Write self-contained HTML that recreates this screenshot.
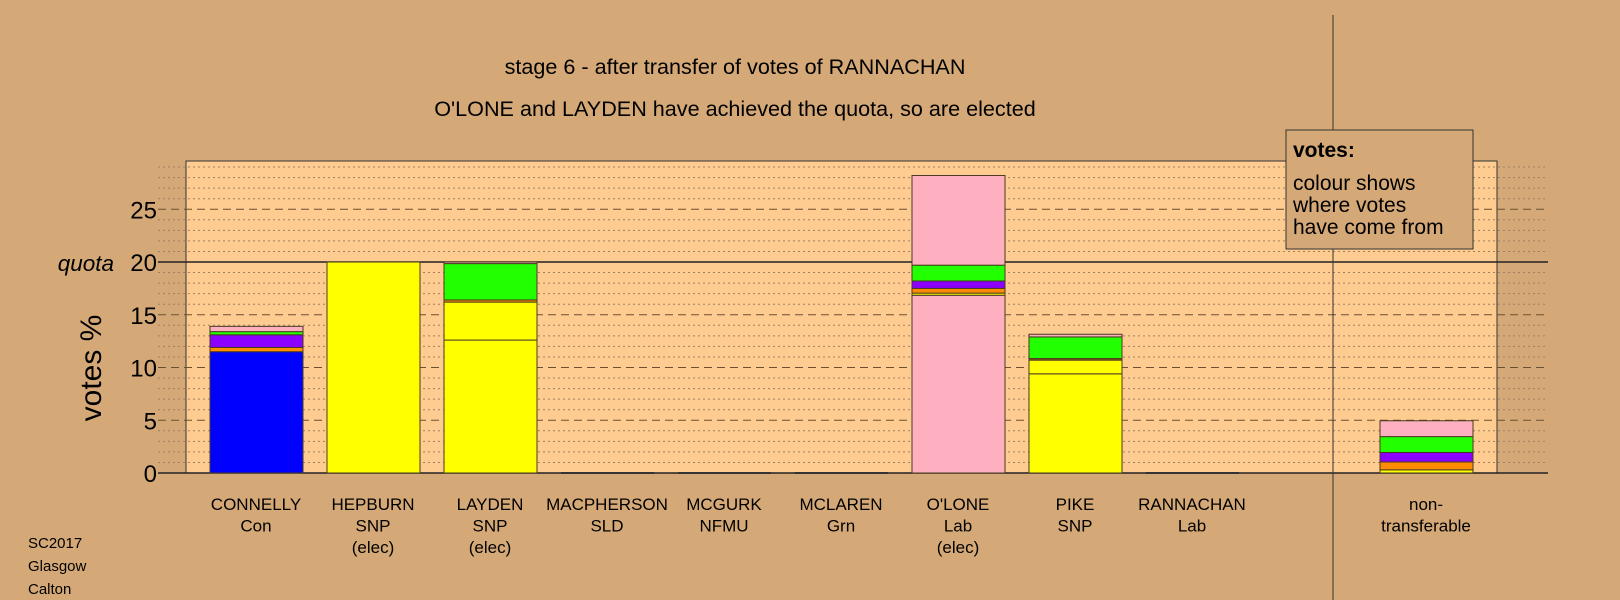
<!DOCTYPE html>
<html><head><meta charset="utf-8"><style>
body{margin:0;background:#d5a977;}
svg{display:block;font-family:"Liberation Sans",sans-serif;}
</style></head><body>
<svg id="chart" width="1620" height="600" viewBox="0 0 1620 600">
<rect x="0" y="0" width="1620" height="600" fill="#d5a977"/>
<text x="735" y="74" font-size="21.6" text-anchor="middle">stage 6 - after transfer of votes of RANNACHAN</text>
<text x="735" y="116" font-size="21.6" text-anchor="middle">O'LONE and LAYDEN have achieved the quota, so are elected</text>
<rect x="186" y="161" width="1311" height="312" fill="#fecb91" stroke="#333" stroke-width="1"/>
<g id="grid"></g>
<g id="bars"></g>
<g id="ticks"></g>
<line x1="1333" y1="15" x2="1333" y2="600" stroke="#333" stroke-width="1"/>
<text x="114" y="271" font-size="22.5" font-style="italic" text-anchor="end">quota</text>
<text transform="translate(101,368) rotate(-90)" font-size="30" text-anchor="middle">votes %</text>
<g>
<rect x="1286" y="130" width="187" height="119" fill="#d5a977" stroke="#333" stroke-width="1"/>
<text x="1293" y="157" font-size="21" font-weight="bold">votes:</text>
<text x="1293" y="190" font-size="21">colour shows</text>
<text x="1293" y="212" font-size="21">where votes</text>
<text x="1293" y="234" font-size="21">have come from</text>
</g>
<g font-size="15">
<text x="28" y="548">SC2017</text>
<text x="28" y="571">Glasgow</text>
<text x="28" y="594">Calton</text>
</g>
<g id="labels" font-size="17" text-anchor="middle"></g>
</svg>
<script>
const categories=["CONNELLY","HEPBURN","LAYDEN","MACPHERSON","MCGURK","MCLAREN","O'LONE","PIKE","RANNACHAN","non-"];
const subLabels=[["Con"],["SNP","(elec)"],["SNP","(elec)"],["SLD"],["NFMU"],["Grn"],["Lab","(elec)"],["SNP"],["Lab"],["transferable"]];
const slotIndex=[0,1,2,3,4,5,6,7,8,10];
const segConnelly=[["#0000ff",11.5],["#ff8c00",0.4],["#8b00ff",1.2],["#22ff00",0.3],["#ffb0c0",0.5]];
const segHepburn=[["#ffff00",20.0]];
const segLayden=[["#ffff00",12.6],["#ffff00",3.6],["#ff8c00",0.2],["#22ff00",3.45],["#ffb0c0",0.15]];
const segOlone=[["#ffb0c0",16.85],["#ffff00",0.2],["#ff8c00",0.45],["#8b00ff",0.7],["#22ff00",1.5],["#ffb0c0",8.5]];
const segPike=[["#ffff00",9.4],["#ffff00",1.3],["#8b5a00",0.15],["#22ff00",2.05],["#ffb0c0",0.25]];
const segNontrans=[["#ffff00",0.3],["#ff8c00",0.75],["#8b00ff",0.9],["#22ff00",1.5],["#ffb0c0",1.5]];
const stacks=[segConnelly,segHepburn,segLayden,[],[],[],segOlone,segPike,[],segNontrans];
const yTicks=[0,5,10,15,20,25];
const quota=20;
const NS="http://www.w3.org/2000/svg";
const y0=473,pxU=10.55;
function y(v){return y0-v*pxU;}
function xc(slot){return 256+slot*117;}
const grid=document.getElementById('grid');
for(let v=0;v<=29;v++){
  const l=document.createElementNS(NS,'line');
  l.setAttribute('x1',158);l.setAttribute('x2',1548);
  l.setAttribute('y1',y(v));l.setAttribute('y2',y(v));
  if(v===0||v===quota){l.setAttribute('stroke','#222');l.setAttribute('stroke-width',1.5);}
  else if(v%5===0){l.setAttribute('stroke','#6a5030');l.setAttribute('stroke-dasharray','8,5');}
  else{l.setAttribute('stroke','#a08060');l.setAttribute('stroke-dasharray','2,3');}
  
  
  grid.appendChild(l);
}
const bars=document.getElementById('bars');
stacks.forEach((st,i)=>{
  let acc=0;const cx=xc(slotIndex[i]);
  if(st.length===0){
    const l=document.createElementNS(NS,'line');
    l.setAttribute('x1',cx-46);l.setAttribute('x2',cx+47);l.setAttribute('y1',y0);l.setAttribute('y2',y0);
    l.setAttribute('stroke','#333');l.setAttribute('stroke-width',2);
    
    
    bars.appendChild(l);
  }
  st.forEach(([c,v])=>{
    const r=document.createElementNS(NS,'rect');
    r.setAttribute('x',cx-46);r.setAttribute('width',93);
    r.setAttribute('y',y(acc+v));r.setAttribute('height',v*pxU);
    r.setAttribute('fill',c);r.setAttribute('stroke','#4a3a20');r.setAttribute('stroke-width',1);
    
    
    bars.appendChild(r);acc+=v;
  });
});
const ticks=document.getElementById('ticks');
yTicks.forEach(t=>{
  const tx=document.createElementNS(NS,'text');
  tx.setAttribute('x',157);tx.setAttribute('y',y(t)+9);tx.setAttribute('font-size',24);tx.setAttribute('text-anchor','end');
  tx.textContent=t;
  
  
  ticks.appendChild(tx);
});
const labels=document.getElementById('labels');
categories.forEach((c,i)=>{
  const lines=[c].concat(subLabels[i]);
  lines.forEach((s,j)=>{
    const t=document.createElementNS(NS,'text');
    t.setAttribute('x',xc(slotIndex[i]));t.setAttribute('y',510+j*21.5);
    t.textContent=s;
    
    
    labels.appendChild(t);
  });
});
</script>
</body></html>
